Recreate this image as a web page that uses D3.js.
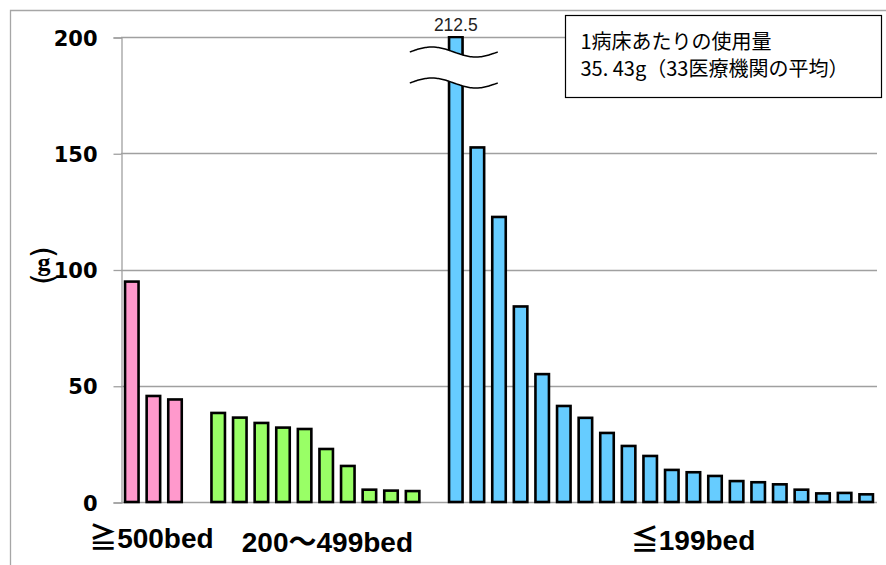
<!DOCTYPE html>
<html>
<head>
<meta charset="utf-8">
<script src="https://cdn.jsdelivr.net/npm/d3@7"></script>
<style>
  html, body { margin: 0; padding: 0; background: #fff; }
  svg { display: block; }
</style>
</head>
<body>
<svg id="chart" width="886" height="565"></svg>
<script>
// Usage per bed (g) for each institution, grouped by hospital size
const groupLabels = ["≧500bed", "200～499bed", "≦199bed"];
const largeHospitals = [94.8, 45.6, 44.1];
const mediumHospitals = [38.3, 36.3, 34.0, 32.0, 31.4, 22.8, 15.5, 5.3, 4.9, 4.7];
const smallHospitals = [212.5, 152.5, 122.6, 84.1, 55.0, 41.3, 36.2, 29.7, 24.1, 19.8,
                        13.8, 12.8, 11.2, 9.0, 8.5, 7.6, 5.3, 3.7, 3.9, 3.3];
const groupColors = ["#ff99cc", "#99ff66", "#66ccff"];
const yTicks = [0, 50, 100, 150, 200];
const yMax = 200;
const unitLabel = "g";
const noteLines = ["1病床あたりの使用量", "35. 43g（33医療機関の平均）"];

// Build one slot per bar, with an empty slot between groups
const groups = [largeHospitals, mediumHospitals, smallHospitals];
const slots = [];
const bars = [];
groups.forEach((vals, gi) => {
  vals.forEach((v, i) => {
    const id = `g${gi}-${i}`;
    slots.push(id);
    bars.push({ id, group: gi, value: v });
  });
  if (gi < groups.length - 1) slots.push(`gap${gi}`);
});

const svg = d3.select("#chart");
const plot = { left: 121, right: 877, top: 37, bottom: 502 };

const x = d3.scaleBand().domain(slots).range([plot.left, plot.right])
  .paddingInner(0.375).paddingOuter(0.1875);
const y = d3.scaleLinear().domain([0, yMax]).range([plot.bottom, plot.top]);

// outer frame
svg.append("path")
  .attr("d", "M10.5,565 V10.5 H886")
  .attr("fill", "none").attr("stroke", "#a6a6a6").attr("stroke-width", 1.3);

// gridlines
svg.append("g").selectAll("line").data(yTicks).join("line")
  .attr("x1", plot.left).attr("x2", plot.right)
  .attr("y1", d => Math.round(y(d)) + 0.5).attr("y2", d => Math.round(y(d)) + 0.5)
  .attr("stroke", "#a0a0a0").attr("stroke-width", 1.5);

// y axis
const yAxis = d3.axisLeft(y).tickValues(yTicks).tickSize(8).tickPadding(16);
const gy = svg.append("g").attr("transform", `translate(${plot.left + 0.5},0.5)`).call(yAxis);
gy.select(".domain").attr("stroke", "#a0a0a0").attr("stroke-width", 1.3);
gy.selectAll(".tick line").attr("stroke", "#a0a0a0").attr("stroke-width", 1.3);
gy.selectAll(".tick text")
  .attr("font-family", "'DejaVu Sans', sans-serif")
  .attr("font-weight", "bold").attr("font-size", 21).attr("fill", "#000")
  .attr("dy", "0.36em");

// unit label (g) written vertically, brackets turned sideways
const unit = svg.append("g").attr("transform", "translate(44,265)")
  .attr("fill", "#000");
unit.append("text").attr("text-anchor", "middle").attr("dy", "0.22em")
  .attr("font-family", "'Liberation Serif', serif").attr("font-weight", "bold")
  .attr("font-size", 26).text(unitLabel);
unit.append("text").attr("transform", "translate(0,-13) rotate(90)")
  .attr("text-anchor", "middle").attr("dy", "0.32em")
  .attr("font-family", "'DejaVu Sans', sans-serif").attr("font-size", 30).text("(");
unit.append("text").attr("transform", "translate(0,14) rotate(90)")
  .attr("text-anchor", "middle").attr("dy", "0.32em")
  .attr("font-family", "'DejaVu Sans', sans-serif").attr("font-size", 30).text(")");

// bars (clipped at the top of the value axis)
svg.append("defs").append("clipPath").attr("id", "plotClip")
  .append("rect").attr("x", 0).attr("y", plot.top - 1).attr("width", 886).attr("height", 565);

svg.append("g").attr("clip-path", "url(#plotClip)")
  .selectAll("rect").data(bars).join("rect")
  .attr("x", d => x(d.id))
  .attr("width", x.bandwidth())
  .attr("y", d => y(Math.min(d.value, yMax)))
  .attr("height", d => y(0) - y(Math.min(d.value, yMax)))
  .attr("fill", d => groupColors[d.group])
  .attr("stroke", "#000").attr("stroke-width", 2.6);

// value label and break marks for the bar that exceeds the axis
const over = bars.filter(d => d.value > yMax);
over.forEach(d => {
  const cx = x(d.id) + x.bandwidth() / 2;
  svg.append("text").attr("x", cx).attr("y", 31)
    .attr("text-anchor", "middle")
    .attr("font-family", "'Liberation Sans', Arial, sans-serif")
    .attr("font-size", 17.5).attr("fill", "#222")
    .text(d3.format(".1f")(d.value));

  const x0 = cx - 46, x1 = cx + 42, amp = 5;
  const wave = yc => d3.range(0, 41).map(i => {
    const t = i / 40;
    return [x0 + t * (x1 - x0), yc - amp * Math.sin(2 * Math.PI * t)];
  });
  const upper = wave(52), lower = wave(83);
  svg.append("path")
    .attr("d", d3.line()(upper.concat(lower.slice().reverse())) + "Z")
    .attr("fill", "#fff").attr("stroke", "none");
  [upper, lower].forEach(w => svg.append("path")
    .attr("d", d3.line().curve(d3.curveBasis)(w))
    .attr("fill", "none").attr("stroke", "#000").attr("stroke-width", 1.5));
});

// group labels below the axis
const groupLabelPos = [
  { g: 0, dx: -2, y: 548 },
  { g: 1, dx: 12, y: 552 },
  { g: 2, dx: 32, y: 550 }
];
groupLabelPos.forEach(p => {
  const ids = bars.filter(b => b.group === p.g).map(b => b.id);
  const cx = (x(ids[0]) + x(ids[ids.length - 1]) + x.bandwidth()) / 2;
  svg.append("text").attr("x", cx + p.dx).attr("y", p.y)
    .attr("text-anchor", "middle")
    .attr("font-family", "'Liberation Sans', 'Noto Sans CJK JP', sans-serif")
    .attr("font-weight", "bold").attr("font-size", 28).attr("fill", "#000")
    .text(groupLabels[p.g]);
});

// note box
const note = svg.append("g").attr("transform", "translate(565.5,15.5)");
note.append("rect").attr("width", 316).attr("height", 82)
  .attr("fill", "#fff").attr("stroke", "#000").attr("stroke-width", 1.2);
note.selectAll("text").data(noteLines).join("text")
  .attr("x", 15).attr("y", (d, i) => 33 + i * 27)
  .attr("font-family", "'Noto Sans CJK JP', sans-serif")
  .attr("font-size", 20).attr("fill", "#000")
  .text(d => d);
</script>
</body>
</html>
